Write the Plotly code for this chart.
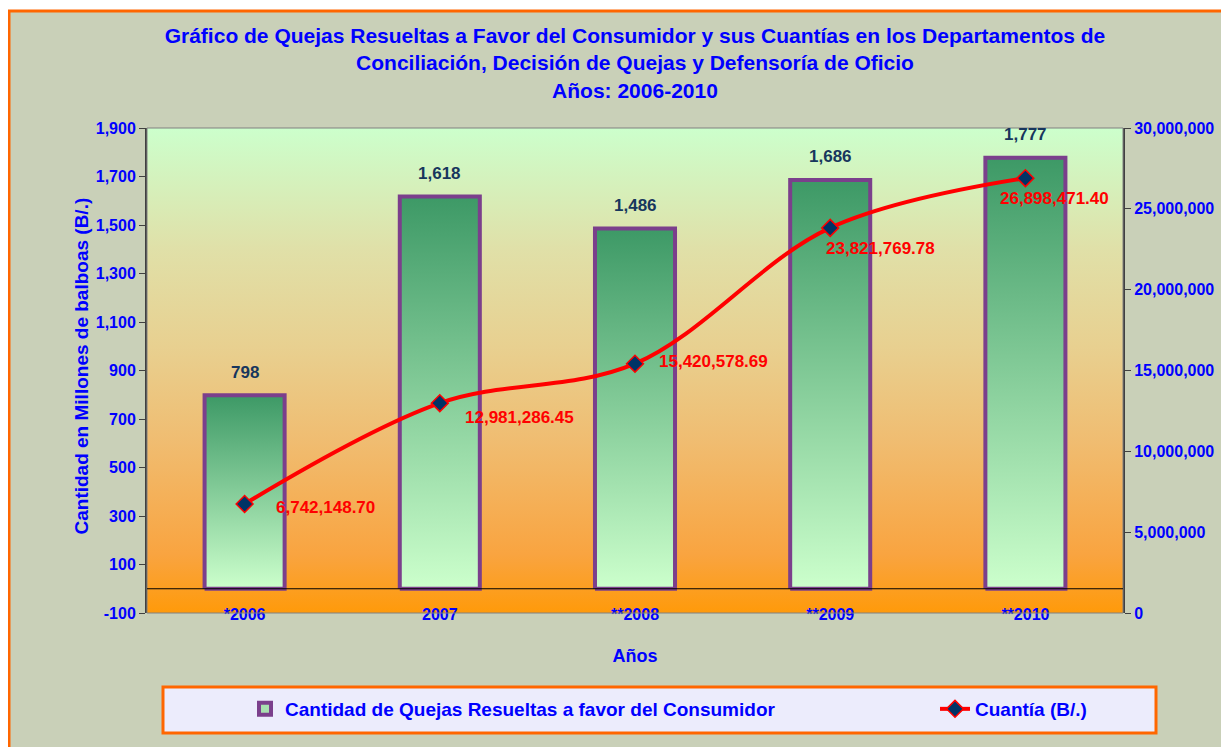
import plotly.graph_objects as go

anios = ["*2006", "2007", "**2008", "**2009", "**2010"]
quejas = [798, 1618, 1486, 1686, 1777]
cuantia = [6742148.70, 12981286.45, 15420578.69, 23821769.78, 26898471.40]
ticks_izq = list(range(-100, 2000, 200))
ticks_der = list(range(0, 30000001, 5000000))

FONT = "Liberation Sans, Arial, sans-serif"
AZUL = "#0000ff"
ROJO = "#ff0000"
MORADO = "#7b3f8c"

# the page body has an 8px margin, so the figure sits at (8, 8)
OFF = 8
W, H = 1229 - OFF, 747 - OFF
# plot area in page pixels: x 147..1123, y 128..613
ML, MR, MT, MB = 147 - OFF, 1229 - 1123, 128 - OFF, 747 - 613
PW, PH = W - ML - MR, H - MT - MB


def px_x(p):
    return (p - 147) / PW


def px_y(p):
    return (613 - p) / PH


xs = list(range(len(anios)))
bar_w = 0.41

fig = go.Figure()

# plot-area gradient background
fig.add_trace(go.Scatter(
    x=[-0.5, 4.5, 4.5, -0.5, -0.5], y=[-100, -100, 1900, 1900, -100],
    fill="toself", mode="lines", line=dict(width=0),
    fillgradient=dict(type="vertical", colorscale=[
        [0, "#ff9a0a"], [0.12, "#f9a440"], [0.35, "#f0bc70"],
        [0.55, "#e8d090"], [0.75, "#e0e0a8"], [1, "#ccffcc"]]),
    hoverinfo="skip", showlegend=False))

fig.add_trace(go.Bar(
    x=xs, y=quejas, width=bar_w, name="Cantidad de Quejas Resueltas a favor del Consumidor",
    marker=dict(color="#a8e0b0", line=dict(color=MORADO, width=4)), legend="legend"))

# gradient fill on top of each bar
for i, q in zip(xs, quejas):
    fig.add_trace(go.Scatter(
        x=[i - bar_w / 2, i + bar_w / 2, i + bar_w / 2, i - bar_w / 2, i - bar_w / 2],
        y=[0, 0, q, q, 0], fill="toself", mode="lines",
        line=dict(color=MORADO, width=4),
        fillgradient=dict(type="vertical", colorscale=[[0, "#ccffcc"], [1, "#3d9966"]]),
        hoverinfo="skip", showlegend=False))

fig.add_trace(go.Scatter(
    x=xs, y=cuantia, yaxis="y2", name="Cuantía (B/.)", mode="lines+markers",
    line=dict(color=ROJO, width=4, shape="spline", smoothing=1),
    marker=dict(symbol="diamond", size=13, color="#003366", line=dict(color=ROJO, width=1.5)),
    legend="legend2"))

annotations = []
for i, q in zip(xs, quejas):
    annotations.append(dict(x=i, y=q, xref="x", yref="y", text=f"{q:,}", showarrow=False,
                            yshift=23, font=dict(family=FONT, size=17, color="#17365d", weight="bold")))

lbl_dx = [29, 23, 22, -6, -27]
lbl_dy = [-3, -14, 2, -21, -20]
for i, c, dx, dy in zip(xs, cuantia, lbl_dx, lbl_dy):
    annotations.append(dict(x=i, y=c, xref="x", yref="y2", text=f"{c:,.2f}", showarrow=False,
                            xanchor="left", xshift=dx, yshift=dy,
                            font=dict(family=FONT, size=17, color=ROJO, weight="bold")))

annotations.append(dict(x=px_x(68), y=px_y(366), xref="paper", yref="paper",
                        text="Cantidad en Millones de balboas (B/.)", textangle=-90, showarrow=False,
                        font=dict(family=FONT, size=19, color=AZUL, weight="bold")))

shapes = [
    # outer chart frame
    dict(type="rect", xref="paper", yref="paper", x0=px_x(9), x1=px_x(1245), y0=px_y(765), y1=px_y(11),
         fillcolor="#c9d0b8", line=dict(color="#ff6600", width=3), layer="below"),
    # legend box
    dict(type="rect", xref="paper", yref="paper", x0=px_x(163), x1=px_x(1156), y0=px_y(733), y1=px_y(687),
         fillcolor="#ececfc", line=dict(color="#ff6600", width=3), layer="above"),
    # plot border and zero line
    dict(type="rect", xref="paper", yref="paper", x0=0, x1=1, y0=0, y1=1,
         line=dict(color="#808080", width=1), layer="above"),
    dict(type="line", xref="paper", yref="y", x0=0, x1=1, y0=0, y1=0,
         line=dict(color="black", width=1), layer="above"),
]

tickfont = dict(family=FONT, size=16, color=AZUL, weight="bold")
legfont = dict(family=FONT, size=19, color=AZUL, weight="bold")

fig.update_layout(
    width=W, height=H,
    margin=dict(l=ML, r=MR, t=MT, b=MB),
    paper_bgcolor="white", plot_bgcolor="rgba(0,0,0,0)",
    title=dict(text="Gráfico de Quejas Resueltas a Favor del Consumidor y sus Cuantías en los Departamentos de<br>"
                    "Conciliación, Decisión de Quejas y Defensoría de Oficio<br>Años: 2006-2010",
               x=0.5, xanchor="center", xref="paper", y=1 - (43 - OFF) / H, yanchor="top",
               font=dict(family=FONT, size=21, color=AZUL, weight="bold")),
    xaxis=dict(range=[-0.5, 4.5], tickvals=xs, ticktext=anios, showgrid=False, zeroline=False,
               tickfont=tickfont, ticks="", ticklabelstandoff=-10,
               title=dict(text="Años", font=dict(family=FONT, size=18, color=AZUL, weight="bold"), standoff=27)),
    yaxis=dict(range=[-100, 1900], tickvals=ticks_izq, ticktext=[f"{v:,}" for v in ticks_izq],
               showgrid=False, zeroline=False, showline=True, linecolor="#404040", linewidth=2,
               ticks="outside", ticklen=6, tickcolor="#404040", tickfont=tickfont),
    yaxis2=dict(range=[0, 30000000], tickvals=ticks_der, ticktext=[f"{v:,}" for v in ticks_der],
                overlaying="y", side="right",
                showgrid=False, zeroline=False, showline=True, linecolor="#404040", linewidth=2,
                ticks="outside", ticklen=6, tickcolor="#404040", tickfont=tickfont),
    legend=dict(x=px_x(245), y=px_y(690), xanchor="left", yanchor="top",
                bgcolor="rgba(0,0,0,0)", font=legfont),
    legend2=dict(x=px_x(935), y=px_y(690), xanchor="left", yanchor="top",
                 bgcolor="rgba(0,0,0,0)", font=legfont),
    shapes=shapes, annotations=annotations,
)

fig.write_html("out.html")
